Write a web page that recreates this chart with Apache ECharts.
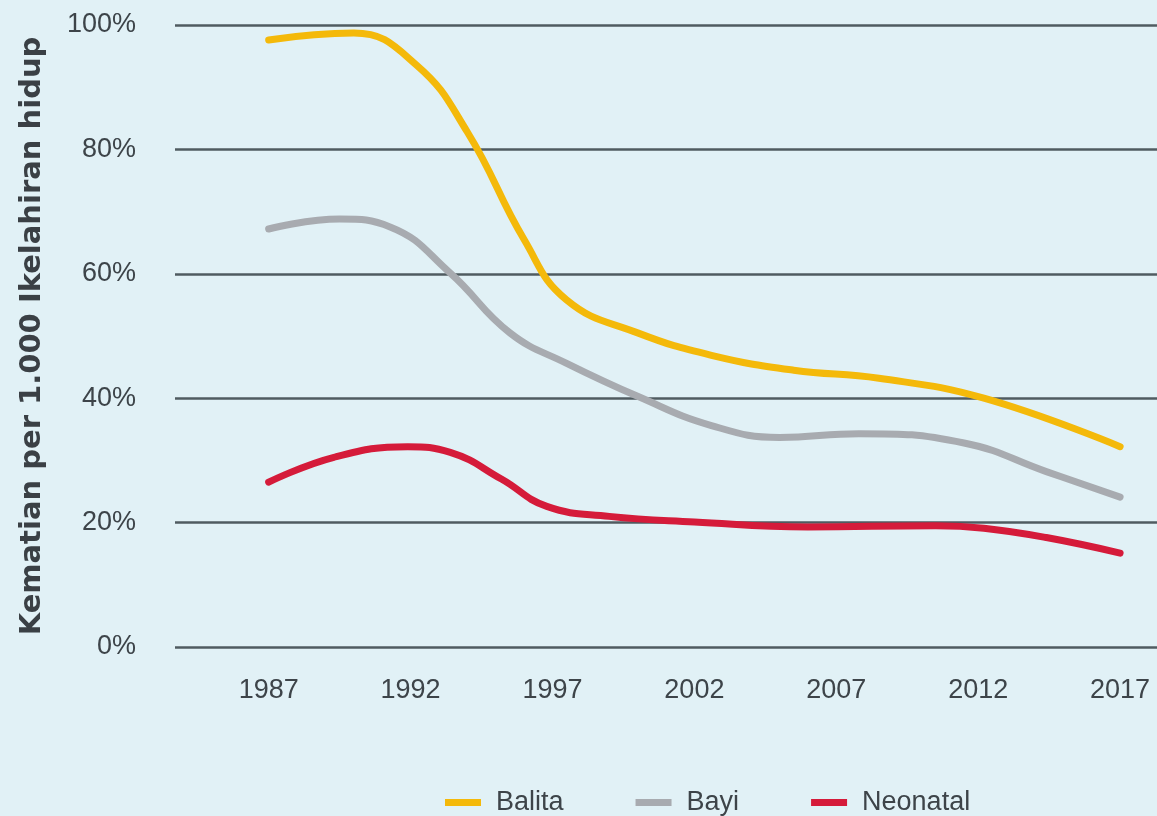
<!DOCTYPE html>
<html>
<head>
<meta charset="utf-8">
<script src="https://cdn.jsdelivr.net/npm/echarts@6/dist/echarts.min.js"></script>
<style>
html,body{margin:0;padding:0;background:#e1f1f6;}
#c{width:1157px;height:816px;}
</style>
</head>
<body>
<div id="c"></div>
<script>
const xTickLabels = [1987, 1992, 1997, 2002, 2007, 2012, 2017];
const seriesNames = ['Balita', 'Bayi', 'Neonatal'];
const balita = [[1987, 97.6], [1990, 98.7], [1992.2, 93.6], [1994, 82.8], [1996, 65.5], [1997.5, 55.8], [2000, 50.5], [2002.6, 46.9], [2005.5, 44.5], [2008.5, 43.2], [2012.2, 40], [2017, 32.2]];
const bayi = [[1987, 67.2], [1989.5, 68.8], [1991.3, 67.5], [1993.4, 60.1], [1995.5, 50.5], [1997.5, 45.6], [2000, 40.3], [2002.6, 35.6], [2005, 33.7], [2007.8, 34.3], [2011.5, 32.8], [2014.4, 28.2], [2017, 24.1]];
const neonatal = [[1987, 26.5], [1989.3, 30.5], [1991.9, 32.2], [1993.4, 31.3], [1995.2, 27], [1996.8, 22.6], [1999, 21], [2002, 20.1], [2006, 19.3], [2010.5, 19.5], [2012.2, 19.1], [2014.4, 17.6], [2017, 15.1]];
const yTitle = 'Kematian per 1.000 Ikelahiran hidup';

const colors = ['#f4b90a', '#a8abb0', '#d51b3a'];
const labelFont = '"Liberation Sans Narrow", "Liberation Sans", sans-serif';
const chart = echarts.init(document.getElementById('c'));
const mkSeries = (i, data) => ({
  name: seriesNames[i], type: 'line', data: data, smooth: 0.45, showSymbol: false,
  lineStyle: { width: 7, color: colors[i], cap: 'round' }
});
chart.setOption({
  backgroundColor: '#e1f1f6',
  animation: false,
  color: colors,
  grid: { left: 175, right: 0, top: 25, bottom: 169, containLabel: false },
  legend: {
    left: 440, top: 784,
    icon: 'rect', itemWidth: 36, itemHeight: 7, itemGap: 72,
    data: seriesNames,
    textStyle: { fontFamily: labelFont, fontSize: 27, color: '#3d4449', padding: [0, 0, 0, 10] }
  },
  xAxis: {
    type: 'value', min: 1983.7, max: 2018.3,
    splitLine: { show: false }, axisLine: { show: false }, axisTick: { show: false },
    axisLabel: {
      customValues: xTickLabels, margin: 30,
      fontFamily: labelFont, fontSize: 27, color: '#3d4449',
      formatter: v => String(v)
    }
  },
  yAxis: {
    type: 'value', min: 0, max: 100, interval: 20,
    name: yTitle, nameLocation: 'middle', nameGap: 128, nameRotate: 90,
    nameTextStyle: { fontFamily: 'DejaVu Sans', fontWeight: 'bold', fontSize: 29, color: '#3a4045' },
    axisLine: { show: false }, axisTick: { show: false },
    splitLine: { lineStyle: { color: '#4f5b60', width: 2.5 } },
    axisLabel: { margin: 39, fontFamily: labelFont, fontSize: 27, color: '#3d4449', formatter: '{value}%' }
  },
  series: [mkSeries(0, balita), mkSeries(1, bayi), mkSeries(2, neonatal)]
});
</script>
</body>
</html>
